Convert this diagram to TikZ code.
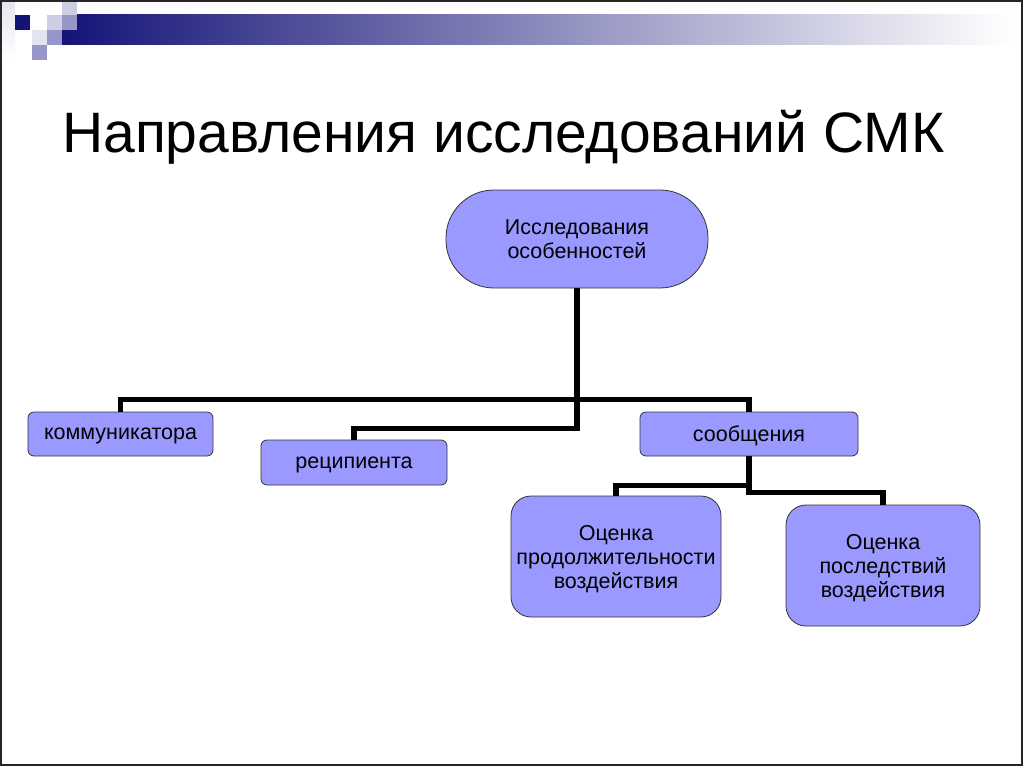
\documentclass[tikz,border=0pt]{standalone}
\usepackage{fontspec}
\setmainfont{Liberation Sans}
\definecolor{boxfill}{RGB}{153,153,255}
\definecolor{navy}{RGB}{20,20,120}
\definecolor{lav}{RGB}{205,205,228}
\definecolor{midlav}{RGB}{150,150,200}
\definecolor{palelav}{RGB}{228,228,240}
\begin{document}
\begin{tikzpicture}[x=1pt,y=-1pt,
    box/.style={draw=black!80,line width=0.8pt,fill=boxfill,rounded corners=6pt,
      inner sep=0pt,align=center,text depth=0pt,font=\fontsize{21.5}{24}\selectfont},
    bigbox/.style={box,rounded corners=20pt},
    link/.style={line width=5.5pt,black}]
  \useasboundingbox (0,0) rectangle (1024,768);
  % frame and header decoration
  \fill[white] (0,0) rectangle (1024,768);
  \shade[left color=navy,middle color=navy!32!white,right color=white]
    (62,15) rectangle (1012,45);
  \shade[top color=palelav,bottom color=white] (0,0) rectangle (15,60);
  \fill[lav] (62,2) rectangle (77,15);
  \fill[lav] (47,15) rectangle (62,30);
  \fill[midlav] (62,15) rectangle (77,30);
  \fill[navy] (15,15) rectangle (30,30);
  \fill[palelav] (32,30) rectangle (47,45);
  \fill[midlav] (47,30) rectangle (62,45);
  \fill[midlav] (32,45) rectangle (47,60);
  \draw[line width=1.2pt,black!85] (1,1) rectangle (1022,765);
  % title
  \node[anchor=base west,inner sep=0pt,font=\fontsize{57}{62}\selectfont]
    (title) at (62,152) {Направления исследований СМК};
  % nodes
  \draw
    (577,239) node[box,rounded corners=48pt,minimum width=262pt,minimum height=98pt]
      (top){Исследования\\особенностей}
    (120.5,434) node[box,minimum width=185pt,minimum height=44pt] (komm){коммуникатора}
    (354,462.5) node[box,minimum width=186pt,minimum height=45pt] (recip){реципиента}
    (749,434) node[box,minimum width=218pt,minimum height=44pt] (msg){сообщения}
    (616,556.5) node[bigbox,minimum width=210pt,minimum height=121pt]
      (dur){Оценка\\продолжительности\\воздействия}
    (883,565.5) node[bigbox,minimum width=194pt,minimum height=121pt]
      (eff){Оценка\\последствий\\воздействия};
  \begin{scope}[link]
    \draw (top.south) -- ++(0,111) -| (komm.north);
    \draw (top.south) -- ++(0,111) -| (msg.north);
    \draw (top.south) -- ++(0,140) -| (recip.north);
    \draw (msg.south) -- ++(0,29) -| (dur.north);
    \draw (msg.south) -- ++(0,36) -| (eff.north);
  \end{scope}
\end{tikzpicture}
\end{document}
